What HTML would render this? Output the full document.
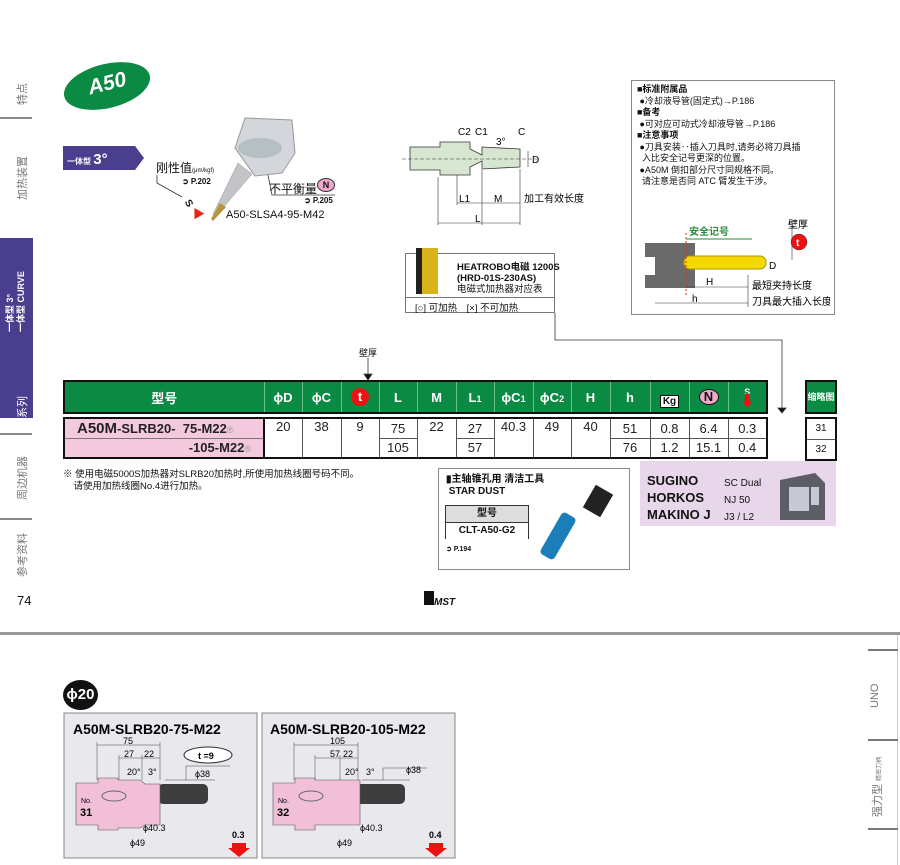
<!DOCTYPE html>
<html><head><meta charset="utf-8"><style>
*{margin:0;padding:0;box-sizing:border-box}
body{width:900px;height:865px;position:relative;background:#fff;font-family:"Liberation Sans","Noto Sans CJK SC",sans-serif;color:#111;overflow:hidden}
.a{position:absolute}
.v{writing-mode:vertical-rl;text-orientation:sideways;transform:rotate(180deg);font-size:11px;color:#777;white-space:nowrap}
table{border-collapse:collapse;table-layout:fixed}
.hd td{background:#0a8a43;color:#fff;font-weight:bold;font-size:13px;text-align:center;border-left:1px solid #6fbf8f;height:32px;padding:0}
.bd td{font-size:13px;text-align:center;border:1px solid #555;height:20px;color:#222;padding:0}
.sm{font-size:9px}
</style></head><body>
<div class="a v" style="left:14px;top:75px;height:30px">特点</div>
<div class="a" style="left:0;top:117px;width:32px;height:2px;background:#888"></div>
<div class="a v" style="left:14px;top:150px;height:50px">加热装置</div>
<div class="a" style="left:0;top:238px;width:33px;height:180px;background:#4a3f8f"></div>
<div class="a v" style="left:5px;top:262px;height:70px;color:#fff;font-size:9px;font-weight:bold;line-height:11px">一体型 3°<br>一体型 CURVE</div>
<div class="a v" style="left:14px;top:392px;height:26px;color:#fff">系列</div>
<div class="a" style="left:0;top:433px;width:32px;height:2px;background:#888"></div>
<div class="a v" style="left:14px;top:455px;height:45px">周边机器</div>
<div class="a" style="left:0;top:518px;width:32px;height:2px;background:#888"></div>
<div class="a v" style="left:14px;top:532px;height:45px">参考资料</div>
<div class="a" style="left:17px;top:593px;font-size:13px">74</div>

<div class="a" style="left:63px;top:64px;width:88px;height:44px;border-radius:50%;background:#0a8a43;transform:rotate(-14deg)"></div>
<div class="a" style="left:88px;top:72px;color:#fff;font-weight:bold;font-size:21px;font-style:italic;transform:rotate(-14deg)">A50</div>
<svg class="a" style="left:63px;top:146px" width="82" height="24"><polygon points="0,0 72,0 81,12 72,24 0,24" fill="#4a3f8f"/></svg>
<div class="a" style="left:67px;top:151px;color:#fff;font-size:8px;font-weight:bold">一体型 <span style="font-size:15px">3°</span></div>
<svg class="a" style="left:200px;top:108px" width="100" height="115">
<polygon points="45,10 92,12 95,45 82,65 55,68 35,40" fill="#d3d6db" stroke="#999"/>
<ellipse cx="60" cy="40" rx="22" ry="10" fill="#9aa" opacity=".5"/>
<polygon points="38,55 52,66 16,108 13,106" fill="#c2c4c8" stroke="#999" stroke-width=".5"/>
<polygon points="20,95 26,99 13,113 11,111" fill="#b8953a"/>
</svg>
<div class="a" style="left:156px;top:159px;font-size:12px">刚性值<span style="font-size:6px">(μm/kgf)</span></div>
<div class="a" style="left:182px;top:177px;font-size:8px;font-weight:bold">➲ P.202</div>
<div class="a" style="left:185px;top:198px;font-size:10px;font-weight:bold;transform:rotate(60deg)">S</div>
<div class="a" style="left:193px;top:205px;color:#e21;font-size:12px">▶</div>
<div class="a" style="left:269px;top:180px;font-size:12px">不平衡量</div>
<div class="a" style="left:317px;top:178px;width:18px;height:14px;border-radius:50%;background:#f0a8cc;border:1px solid #333;font-size:9px;font-weight:bold;text-align:center;line-height:12px">N</div>
<div class="a" style="left:304px;top:196px;font-size:8px;font-weight:bold">➲ P.205</div>
<div class="a" style="left:226px;top:209px;font-size:11px">A50-SLSA4-95-M42</div>
<svg class="a" style="left:155px;top:175px" width="200" height="30" fill="none" stroke="#333" stroke-width=".8"><path d="M2,0 L2,8 L27,22"/><path d="M113,0 L117,20 L180,20"/></svg>

<svg class="a" style="left:400px;top:125px" width="200" height="110" font-size="10" font-family="Liberation Sans">
<path d="M10,22 H40 V17 H70 V24 L82,30 V22 L120,24 V42 L82,44 V36 L70,42 V50 H40 V45 H10 Z" fill="#d7e6d0" stroke="#333" stroke-width=".8"/>
<line x1="2" y1="34" x2="140" y2="34" stroke="#333" stroke-dasharray="4,2" stroke-width=".5"/>
<g stroke="#333" stroke-width=".6"><line x1="38" y1="52" x2="38" y2="100"/><line x1="57" y1="50" x2="57" y2="80"/><line x1="82" y1="45" x2="82" y2="100"/><line x1="120" y1="44" x2="120" y2="100"/><line x1="57" y1="78" x2="120" y2="78"/><line x1="38" y1="98" x2="120" y2="98"/><line x1="128" y1="26" x2="128" y2="42"/></g>
<text x="58" y="10">C2</text><text x="75" y="10">C1</text><text x="96" y="20">3°</text><text x="118" y="10">C</text><text x="132" y="38">D</text>
<text x="59" y="77">L1</text><text x="94" y="77">M</text><text x="124" y="77">加工有效长度</text><text x="75" y="97">L</text>
</svg>

<div class="a" style="left:405px;top:253px;width:150px;height:60px;border:1px solid #777"></div>
<div class="a" style="left:405px;top:297px;width:150px;height:1px;background:#777"></div>
<div class="a" style="left:416px;top:248px;width:22px;height:46px;background:#d8b41a;border-left:6px solid #222"></div>
<div class="a" style="left:457px;top:262px;font-size:9.5px;line-height:11px;font-weight:bold">HEATROBO电磁 1200S<br>(HRD-01S-230AS)<br><span style="font-weight:normal">电磁式加热器对应表</span></div>
<div class="a" style="left:415px;top:300px;font-size:9.5px">[○] 可加热　[×] 不可加热</div>
<svg class="a" style="left:0;top:0" width="900" height="420" fill="none" stroke="#333" stroke-width=".8">
<polyline points="555,313 555,340 782,340 782,410"/><path d="M778,408 L786,408 L782,413 Z" fill="#111"/>
<line x1="368" y1="358" x2="368" y2="376"/><path d="M364,374 L372,374 L368,380 Z" fill="#111"/>
</svg>
<div class="a" style="left:359px;top:346px;font-size:9px">壁厚</div>

<div class="a" style="left:631px;top:80px;width:204px;height:235px;border:1px solid #888"></div>
<div class="a" style="left:637px;top:84px;font-size:9px;line-height:11.5px">
<b>■标准附属品</b><br>&nbsp;●冷却液导管(固定式)→P.186<br><b>■备考</b><br>&nbsp;●可对应可动式冷却液导管→P.186<br><b>■注意事项</b><br>&nbsp;●刀具安装‥插入刀具时,请务必将刀具插<br>&nbsp;&nbsp;入比安全记号更深的位置。<br>&nbsp;●A50M 倒扣部分尺寸同规格不同。<br>&nbsp;&nbsp;请注意是否同 ATC 臂发生干涉。</div>
<svg class="a" style="left:640px;top:215px" width="190" height="100" font-family="Liberation Sans,Noto Sans CJK SC" font-size="10">
<rect x="5" y="28" width="50" height="45" fill="#6a6a6a"/><rect x="5" y="42" width="10" height="18" fill="#fff"/>
<rect x="44" y="41" width="82" height="13" rx="6" fill="#f5d800" stroke="#a90"/>
<line x1="46" y1="18" x2="46" y2="80" stroke="#e22" stroke-dasharray="2,2"/>
<text x="49" y="20" fill="#2a8a3a" font-weight="bold">安全记号</text><line x1="46" y1="24" x2="112" y2="24" stroke="#2a8a3a"/>
<text x="129" y="54">D</text>
<g stroke="#333" stroke-width=".6"><line x1="46" y1="72" x2="108" y2="72"/><line x1="15" y1="88" x2="108" y2="88"/><line x1="108" y1="60" x2="108" y2="92"/><line x1="152" y1="8" x2="152" y2="45"/></g>
<text x="66" y="70">H</text><text x="52" y="87">h</text>
<text x="112" y="74">最短夹持长度</text><text x="112" y="90">刀具最大插入长度</text>
<text x="148" y="13">壁厚</text><circle cx="159" cy="27" r="8" fill="#e11" stroke="#333" stroke-width=".5"/><text x="156" y="31" fill="#fff" font-weight="bold">t</text>
</svg>

<table class="a" style="left:63px;top:380px;width:703px;border:2px solid #111">
<colgroup><col style="width:200px"><col style="width:38px"><col style="width:39px"><col style="width:38px"><col style="width:38px"><col style="width:39px"><col style="width:38px"><col style="width:39px"><col style="width:38px"><col style="width:39px"><col style="width:40px"><col style="width:39px"><col style="width:39px"><col style="width:39px"></colgroup>
<tr class="hd"><td style="border-left:none">型号</td><td>ϕD</td><td>ϕC</td><td><span style="display:inline-block;width:18px;height:18px;border-radius:50%;background:#e11;line-height:18px">t</span></td><td>L</td><td>M</td><td>L<span class="sm">1</span></td><td>ϕC<span class="sm">1</span></td><td>ϕC<span class="sm">2</span></td><td>H</td><td>h</td><td style="font-size:10px"><span style="display:inline-block;background:#fff;color:#111;border:1px solid #111;padding:0 2px;margin-top:8px">Kg</span></td><td><span style="display:inline-block;width:20px;height:16px;border-radius:50%;background:#f0a8cc;color:#111;border:1px solid #111;line-height:14px">N</span></td><td style="font-size:9px;line-height:10px">S<br><span style="color:#e11;font-size:15px">⬇</span></td></tr>
</table>
<table class="a" style="left:63px;top:417px;width:703px;border:2px solid #111">
<colgroup><col style="width:200px"><col style="width:38px"><col style="width:39px"><col style="width:38px"><col style="width:38px"><col style="width:39px"><col style="width:38px"><col style="width:39px"><col style="width:38px"><col style="width:39px"><col style="width:40px"><col style="width:39px"><col style="width:39px"><col style="width:39px"></colgroup>
<tr class="bd"><td style="background:#f5c9dd;text-align:left;padding-left:12px;border-bottom:1px solid #777;border-right:2px solid #111;white-space:nowrap"><b style="font-size:15px">A50M</b><b>-SLRB20-&nbsp; 75-M22</b><span class="sm" style="color:#999">®</span></td>
<td rowspan="2" style="vertical-align:top">20</td><td rowspan="2" style="vertical-align:top">38</td><td rowspan="2" style="vertical-align:top">9</td><td>75</td><td rowspan="2" style="vertical-align:top">22</td><td>27</td><td rowspan="2" style="vertical-align:top">40.3</td><td rowspan="2" style="vertical-align:top">49</td><td rowspan="2" style="vertical-align:top">40</td><td>51</td><td>0.8</td><td>6.4</td><td>0.3</td></tr>
<tr class="bd"><td style="background:#f5c9dd;text-align:right;padding-right:12px;border-right:2px solid #111"><b>-105-M22</b><span class="sm" style="color:#999">®</span></td><td>105</td><td>57</td><td>76</td><td>1.2</td><td>15.1</td><td>0.4</td></tr>
</table>
<div class="a" style="left:805px;top:380px;width:32px;height:34px;background:#0a8a43;border:2px solid #111;color:#fff;font-size:9px;font-weight:bold;text-align:center;line-height:30px">缩略图</div>
<div class="a" style="left:805px;top:417px;width:32px;height:44px;border:2px solid #111;font-size:10px;text-align:center;line-height:20px">31<br><span style="display:block;border-top:1px solid #555">32</span></div>
<div class="a" style="left:63px;top:469px;font-size:9.5px;line-height:12px">※ 使用电磁5000S加热器对SLRB20加热时,所使用加热线圈号码不同。<br>&nbsp;&nbsp;&nbsp;&nbsp;请使用加热线圈No.4进行加热。</div>

<div class="a" style="left:438px;top:468px;width:192px;height:102px;border:1px solid #888"></div>
<div class="a" style="left:446px;top:474px;font-size:10px;line-height:12px;font-weight:bold">▮主轴锥孔用 清洁工具<br>&nbsp;STAR DUST</div>
<div class="a" style="left:445px;top:505px;width:84px;height:34px;border:1px solid #333;background:#ddd;font-size:10px;font-weight:bold;text-align:center;line-height:16px">型号<div style="background:#fff;border-top:1px solid #333">CLT-A50-G2</div></div>
<div class="a" style="left:446px;top:545px;font-size:7px;font-weight:bold">➲ P.194</div>
<svg class="a" style="left:530px;top:478px" width="90" height="90"><rect x="58" y="10" width="20" height="26" fill="#222" transform="rotate(30 68 23)"/><rect x="20" y="34" width="16" height="48" rx="4" fill="#1a7fb8" transform="rotate(30 28 58)"/></svg>
<div class="a" style="left:424px;top:591px;width:10px;height:14px;background:#111"></div>
<div class="a" style="left:434px;top:597px;font-size:10px;font-weight:bold;font-style:italic">MST</div>

<div class="a" style="left:640px;top:461px;width:196px;height:65px;background:#e8d6ea"></div>
<div class="a" style="left:647px;top:472px;font-size:13px;font-weight:bold;line-height:17px">SUGINO<br>HORKOS<br>MAKINO J</div>
<div class="a" style="left:724px;top:475px;font-size:10px;line-height:17px">SC Dual<br>NJ 50<br>J3 / L2</div>
<svg class="a" style="left:775px;top:465px" width="55" height="60"><polygon points="5,15 40,8 50,18 50,55 5,55" fill="#5d5d66"/><rect x="14" y="22" width="20" height="24" fill="#c9c9d6"/><rect x="36" y="22" width="8" height="18" fill="#c9c9d6"/></svg>

<div class="a" style="left:0;top:632px;width:900px;height:3px;background:#999"></div>
<div class="a" style="left:897px;top:635px;width:1px;height:230px;background:#ccc"></div>
<div class="a" style="left:868px;top:649px;width:30px;height:2px;background:#777"></div>
<div class="a v" style="left:869px;top:678px;height:30px">UNO</div>
<div class="a" style="left:868px;top:739px;width:30px;height:2px;background:#777"></div>
<div class="a v" style="left:869px;top:752px;height:65px">强力型 <span style="font-size:6px">精密刀柄</span></div>
<div class="a" style="left:868px;top:828px;width:30px;height:2px;background:#777"></div>

<div class="a" style="left:63px;top:680px;width:35px;height:30px;border-radius:50%;background:#111;color:#fff;font-weight:bold;font-size:15px;text-align:center;line-height:30px">ϕ20</div>

<svg class="a" style="left:0;top:700px" width="900" height="165" font-family="Liberation Sans" font-size="9">
<g fill="#e9e9ed" stroke="#888"><rect x="64" y="13" width="193" height="145"/><rect x="262" y="13" width="193" height="145"/></g>
<text x="73" y="34" font-size="14" font-weight="bold">A50M-SLRB20-75-M22</text>
<text x="270" y="34" font-size="14" font-weight="bold">A50M-SLRB20-105-M22</text>
<rect x="158" y="84" width="50" height="20" rx="5" fill="#3d3d3d"/>
<path d="M76,83 H98 V78 H118 V80 H140 L145,84 H160 V125 H145 L140,128 H118 V130 H98 V125 H76 Z" fill="#f1c0d8" stroke="#555" stroke-width=".6"/>
<text x="81" y="103" font-size="7">No.</text><text x="80" y="116" font-size="11" font-weight="bold">31</text>
<ellipse cx="114" cy="96" rx="12" ry="5" fill="none" stroke="#666"/>
<g stroke="#444" stroke-width=".5" fill="none"><line x1="97" y1="42" x2="97" y2="80"/><line x1="160" y1="42" x2="160" y2="80"/><line x1="97" y1="45" x2="160" y2="45"/><line x1="119" y1="58" x2="160" y2="58"/><line x1="119" y1="55" x2="119" y2="80"/><line x1="142" y1="55" x2="142" y2="80"/><polyline points="186,80 186,66 230,66"/><line x1="165" y1="80" x2="215" y2="80"/></g>
<text x="123" y="44">75</text><text x="124" y="57">27</text><text x="144" y="57">22</text><text x="127" y="75">20°</text><text x="148" y="75">3°</text><text x="195" y="77">ϕ38</text>
<ellipse cx="208" cy="55" rx="24" ry="8" fill="#fff" stroke="#333"/><text x="198" y="59" font-weight="bold">t =9</text>
<text x="143" y="131">ϕ40.3</text><text x="130" y="146">ϕ49</text>
<text x="232" y="138" font-weight="bold">0.3</text><path d="M232,143 H246 V148 H250 L239,157 L228,148 H232 Z" fill="#e11"/>
<rect x="355" y="84" width="50" height="20" rx="5" fill="#3d3d3d"/>
<path d="M273,83 H295 V78 H315 V80 H360 V125 H315 L315,130 H295 V125 H273 Z" fill="#f1c0d8" stroke="#555" stroke-width=".6"/>
<text x="278" y="103" font-size="7">No.</text><text x="277" y="116" font-size="11" font-weight="bold">32</text>
<ellipse cx="311" cy="96" rx="12" ry="5" fill="none" stroke="#666"/>
<g stroke="#444" stroke-width=".5" fill="none"><line x1="294" y1="42" x2="294" y2="80"/><line x1="358" y1="42" x2="358" y2="80"/><line x1="294" y1="45" x2="358" y2="45"/><line x1="315" y1="58" x2="358" y2="58"/><line x1="315" y1="55" x2="315" y2="80"/><line x1="340" y1="55" x2="340" y2="80"/><polyline points="383,80 383,68 427,68"/><line x1="362" y1="80" x2="410" y2="80"/></g>
<text x="330" y="44">105</text><text x="330" y="57">57</text><text x="343" y="57">22</text><text x="345" y="75">20°</text><text x="366" y="75">3°</text><text x="406" y="73">ϕ38</text>
<text x="360" y="131">ϕ40.3</text><text x="337" y="146">ϕ49</text>
<text x="429" y="138" font-weight="bold">0.4</text><path d="M429,143 H443 V148 H447 L436,157 L425,148 H429 Z" fill="#e11"/>
</svg>
</body></html>
